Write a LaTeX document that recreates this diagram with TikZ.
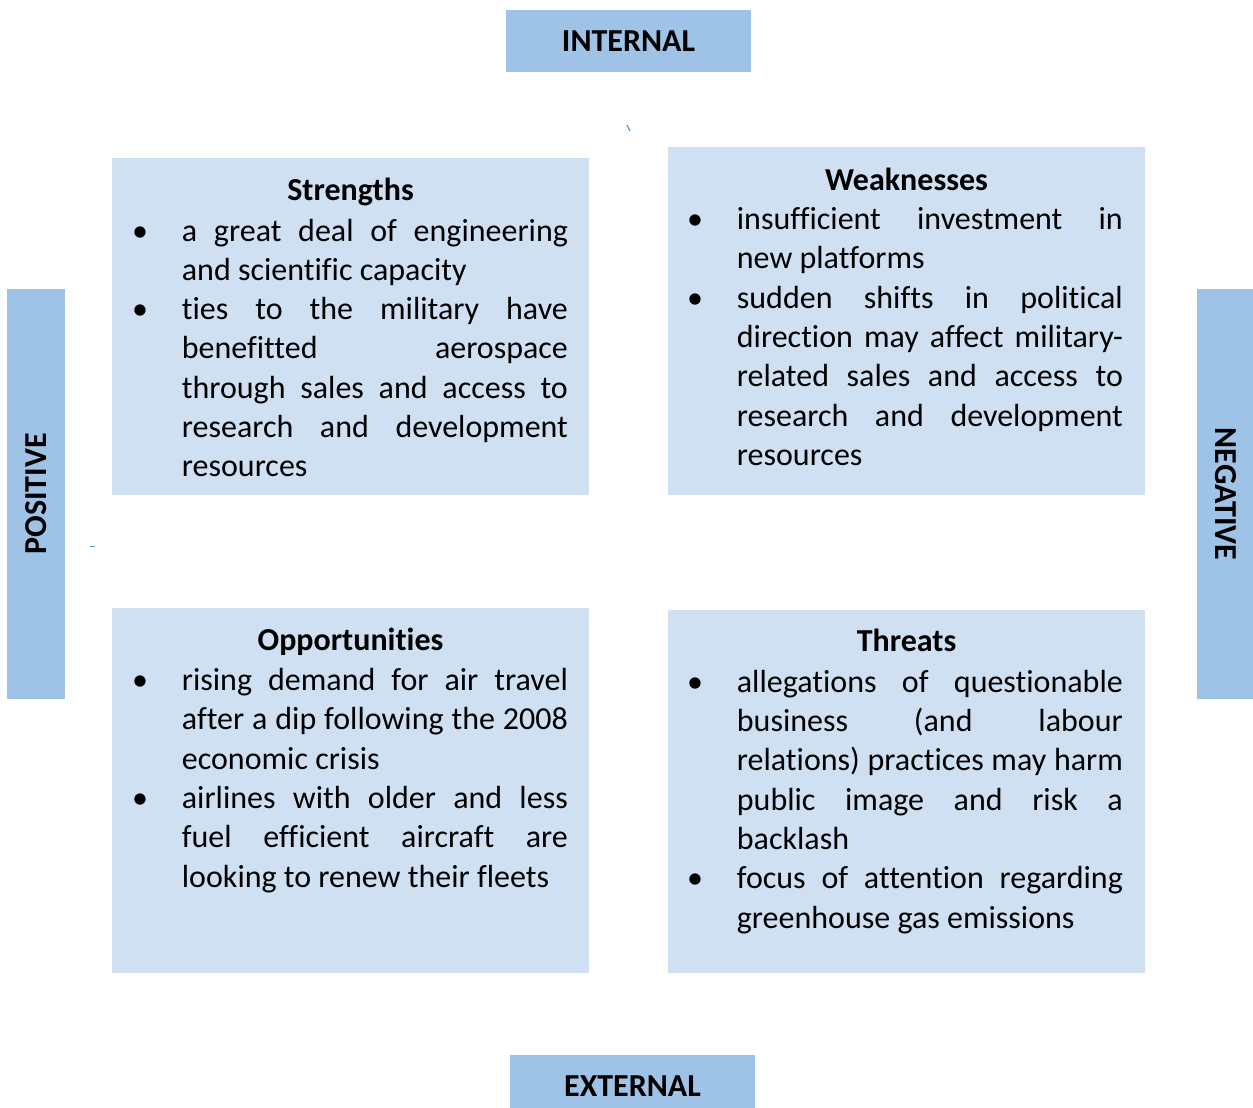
\documentclass[tikz,border=0pt]{standalone}
\usepackage{fontspec}
\setmainfont{Carlito}[Ligatures={NoCommon,NoContextual},RawFeature={-dlig}]
\definecolor{labc}{HTML}{9FC3E7}
\definecolor{quadc}{HTML}{CFE0F3}
\definecolor{markc}{HTML}{5B9BD5}
\newlength{\jwidth}\setlength{\jwidth}{386pt}
\newlength{\bind}\setlength{\bind}{47.7pt}
\newcommand{\jl}[1]{\hbox{\hskip\bind\hbox to \jwidth{\spaceskip=0.226em plus 1fil minus 0.05em\relax #1}}}
\newcommand{\nl}[1]{\hbox{\hskip\bind #1}}
\newcommand{\bj}[1]{\hbox{\hbox to \bind{\hbox to 12pt{\hss\textbullet\hss}\hfil}\hbox to \jwidth{\spaceskip=0.226em plus 1fil minus 0.05em\relax #1}}}
\newcommand{\bn}[1]{\hbox{\hbox to \bind{\hbox to 12pt{\hss\textbullet\hss}\hfil}#1}}
\newcommand{\bodytext}[1]{\vtop{\baselineskip=39.3pt\lineskiplimit=-100pt\lineskip=0pt #1}}
\begin{document}
\begin{tikzpicture}[x=1pt,y=-1pt,
  lab/.style={fill=labc, inner sep=0pt, text height=20.6pt, text depth=0pt,
    font=\bfseries\fontsize{32}{38}\selectfont},
  quad/.style={fill=quadc, inner sep=0pt, anchor=north west},
  ttl/.style={anchor=base, inner sep=0pt, font=\bfseries\fontsize{32}{38}\selectfont},
  body/.style={anchor=base west, inner sep=0pt, font=\fontsize{32}{39.3}\selectfont},
  tick/.style={draw=markc, line width=1.3pt}]
\useasboundingbox (0,0) rectangle (1253,1108);
\clip (0,0) rectangle (1253,1108);
\fill[white] (0,0) rectangle (1253,1108);

% axis labels
\node[lab, minimum width=245pt, minimum height=62pt] (int) at (628.5,41) {INTERNAL};
\node[lab, minimum width=245pt, minimum height=62pt] (ext) at (632.5,1086) {EXTERNAL};
\node[lab, rotate=90, minimum width=410pt, minimum height=58pt] (pos) at (36,494) {POSITIVE};
\node[lab, rotate=-90, minimum width=410pt, minimum height=58pt] (neg) at (1226,494) {NEGATIVE};

% quadrants
\node[quad, minimum width=477pt, minimum height=337pt] (S) at (112,158) {};
\node[quad, minimum width=477pt, minimum height=348pt] (W) at (668,147) {};
\node[quad, minimum width=477pt, minimum height=365pt] (O) at (112,608) {};
\node[quad, minimum width=477pt, minimum height=363pt] (T) at (668,610) {};

% titles
\node[ttl] (St) at (350.5,200.5) {Strengths};
\node[ttl] (Wt) at (906.5,190) {Weaknesses};
\node[ttl] (Ot) at (350.5,650.5) {Opportunities};
\node[ttl] (Tt) at (906.5,651.5) {Threats};

% bodies
\node[body] (Sb) at (134,241) {\bodytext{%
  \bj{a great deal of engineering}
  \nl{and scientific capacity}
  \bj{ties to the military have}
  \jl{benefitted aerospace}
  \jl{through sales and access to}
  \jl{research and development}
  \nl{resources}}};

\node[body] (Wb) at (689,229.5) {\bodytext{%
  \bj{insufficient investment in}
  \nl{new platforms}
  \bj{sudden shifts in political}
  \jl{direction may affect military-}
  \jl{related sales and access to}
  \jl{research and development}
  \nl{resources}}};

\node[body] (Ob) at (134,690.5) {\bodytext{%
  \bj{rising demand for air travel}
  \jl{after a dip following the 2008}
  \nl{economic crisis}
  \bj{airlines with older and less}
  \jl{fuel efficient aircraft are}
  \nl{looking to renew their fleets}}};

\node[body] (Tb) at (689,692.3) {\bodytext{%
  \bj{allegations of questionable}
  \jl{business (and labour}
  \jl{relations) practices may harm}
  \jl{public image and risk a}
  \nl{backlash}
  \bj{focus of attention regarding}
  \nl{greenhouse gas emissions}}};

% stray marks
\coordinate (m1a) at (627,125);
\coordinate (m1b) at (630,131);
\draw[tick] (m1a) -- (m1b);
\coordinate (m2a) at (90,546.5);
\coordinate (m2b) at (95,546.5);
\draw[tick] (m2a) -- (m2b);
\end{tikzpicture}
\end{document}
